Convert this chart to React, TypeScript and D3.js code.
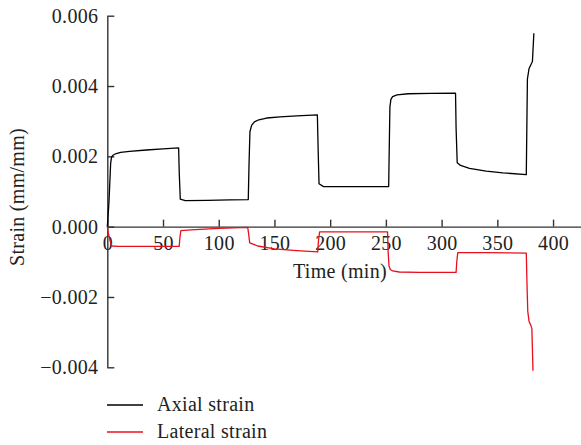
import React, { useEffect, useRef } from "react";
import * as d3 from "d3";

// axial strain (time in min, strain in mm/mm)
const axialTime = [0, 0.5, 1.5, 3, 3.8, 5, 8, 12, 20, 35, 50, 64, 64.6, 65.5, 70, 90, 110, 126.5, 127.2, 128, 129.5, 132, 136, 143, 155, 170, 188.5, 189.2, 190, 194, 220, 252.5, 253, 253.6, 254.5, 256, 260, 270, 290, 312.5, 313, 314, 317, 325, 340, 355, 376, 377, 378.5, 380, 381.5, 382.8];
const axialStrain = [0, 0.0002, 0.0007, 0.0018, 0.00198, 0.00203, 0.00208, 0.00211, 0.00214, 0.00218, 0.00221, 0.00224, 0.0015, 0.00078, 0.00074, 0.00075, 0.00076, 0.00077, 0.0018, 0.0027, 0.00288, 0.00298, 0.00304, 0.00309, 0.00312, 0.00315, 0.00318, 0.0022, 0.00122, 0.00114, 0.00114, 0.00114, 0.0022, 0.0034, 0.00362, 0.0037, 0.00375, 0.00378, 0.00379, 0.0038, 0.0028, 0.00182, 0.00174, 0.00166, 0.00158, 0.00153, 0.00148, 0.0042, 0.0045, 0.0046, 0.0047, 0.0055];

// lateral strain
const lateralTime = [0, 1, 2.5, 4, 10, 30, 64.5, 65.2, 66, 75, 100, 126, 126.8, 127.8, 135, 150, 170, 188.8, 189.5, 190.5, 220, 251.5, 252, 252.8, 254, 256, 262, 280, 313, 313.6, 314.5, 340, 376, 376.6, 377.3, 378.5, 380, 381, 382];
const lateralStrain = [0, -0.0002, -0.0004, -0.00055, -0.00056, -0.00056, -0.00056, -0.0003, -0.00011, -0.00009, -0.00005, -0.00002, -0.0002, -0.00046, -0.00055, -0.00063, -0.00068, -0.00072, -0.0004, -0.00015, -0.00015, -0.00015, -0.0007, -0.00112, -0.00122, -0.00126, -0.00129, -0.0013, -0.0013, -0.001, -0.00074, -0.00074, -0.00075, -0.0016, -0.0024, -0.0027, -0.0028, -0.0029, -0.0041];

const xMajor = [0, 50, 100, 150, 200, 250, 300, 350, 400];
const xMinor = [25, 75, 125, 175, 225, 275, 325, 375];
const yMajor = [-0.004, -0.002, 0, 0.002, 0.004, 0.006];
const yMinor = [-0.003, -0.001, 0.001, 0.003, 0.005];

const seriesNames = ["Axial strain", "Lateral strain"];
const seriesColors = ["#000000", "#e8101e"];

const font = "'Liberation Serif', 'Times New Roman', serif";
const axisColor = "#333333";

const styleText = (sel) =>
    sel.attr("fill", "#222")
        .style("font-family", font)
        .style("font-size", "20px")
        .style("letter-spacing", "0.3px");

const App = () => {
    const ref = useRef(null);

    useEffect(() => {
        const svg = d3.select(ref.current);
        svg.selectAll("*").remove();

        const x = d3.scaleLinear().domain([0, 425]).range([107.3, 580.9]);
        const y = d3.scaleLinear().domain([-0.004, 0.006]).range([367.3, 15.7]);

        const line = d3.line().x(d => x(d[0])).y(d => y(d[1]));

        const axial = axialTime.map((t, i) => [t, axialStrain[i]]);
        const lateral = lateralTime.map((t, i) => [t, lateralStrain[i]]);

        // x axis sits on strain = 0, ticks point up
        const xAxisG = svg.append("g").attr("transform", `translate(0,${y(0)})`);
        xAxisG.call(
            d3.axisBottom(x).tickValues(xMinor).tickSize(-3.5).tickSizeOuter(0).tickFormat(() => "")
        );
        xAxisG.call(
            d3.axisBottom(x).tickValues(xMajor).tickSize(-7).tickSizeOuter(0).tickPadding(9).tickFormat(d3.format("d"))
        );

        const yAxisG = svg.append("g").attr("transform", `translate(${x(0)},0)`);
        yAxisG.call(
            d3.axisLeft(y).tickValues(yMinor).tickSize(-3.5).tickSizeOuter(0).tickFormat(() => "")
        );
        yAxisG.call(
            d3.axisLeft(y).tickValues(yMajor).tickSize(-7).tickSizeOuter(0).tickPadding(9)
                .tickFormat(d => (d < 0 ? "\u2212" : "") + d3.format(".3f")(Math.abs(d)))
        );

        svg.selectAll(".domain, .tick line")
            .attr("stroke", axisColor)
            .attr("stroke-width", 1.4);
        svg.selectAll(".tick text").call(styleText);

        svg.append("path")
            .datum(axial)
            .attr("fill", "none")
            .attr("stroke", seriesColors[0])
            .attr("stroke-width", 1.3)
            .attr("stroke-linejoin", "round")
            .attr("d", line);

        svg.append("path")
            .datum(lateral)
            .attr("fill", "none")
            .attr("stroke", seriesColors[1])
            .attr("stroke-width", 1.3)
            .attr("stroke-linejoin", "round")
            .attr("d", line);

        // axis titles
        svg.append("text")
            .text("Time (min)")
            .attr("x", 340)
            .attr("y", 278)
            .attr("text-anchor", "middle")
            .call(styleText);

        svg.append("text")
            .text("Strain (mm/mm)")
            .attr("transform", "translate(24,197) rotate(-90)")
            .attr("text-anchor", "middle")
            .call(styleText);

        // legend
        const legend = svg.selectAll(".legend")
            .data(seriesNames)
            .enter().append("g")
            .attr("class", "legend")
            .attr("transform", (d, i) => `translate(0,${405 + i * 27})`);

        legend.append("line")
            .attr("x1", 107)
            .attr("x2", 143)
            .attr("stroke", (d, i) => seriesColors[i])
            .attr("stroke-width", 1.3);

        legend.append("text")
            .text(d => d)
            .attr("x", 157)
            .attr("y", 6)
            .call(styleText);
    }, []);

    return (
        <svg
            ref={ref}
            width={581}
            height={445}
            style={{ position: "absolute", left: 0, top: 0, background: "#fff" }}
        />
    );
};

export default App;
